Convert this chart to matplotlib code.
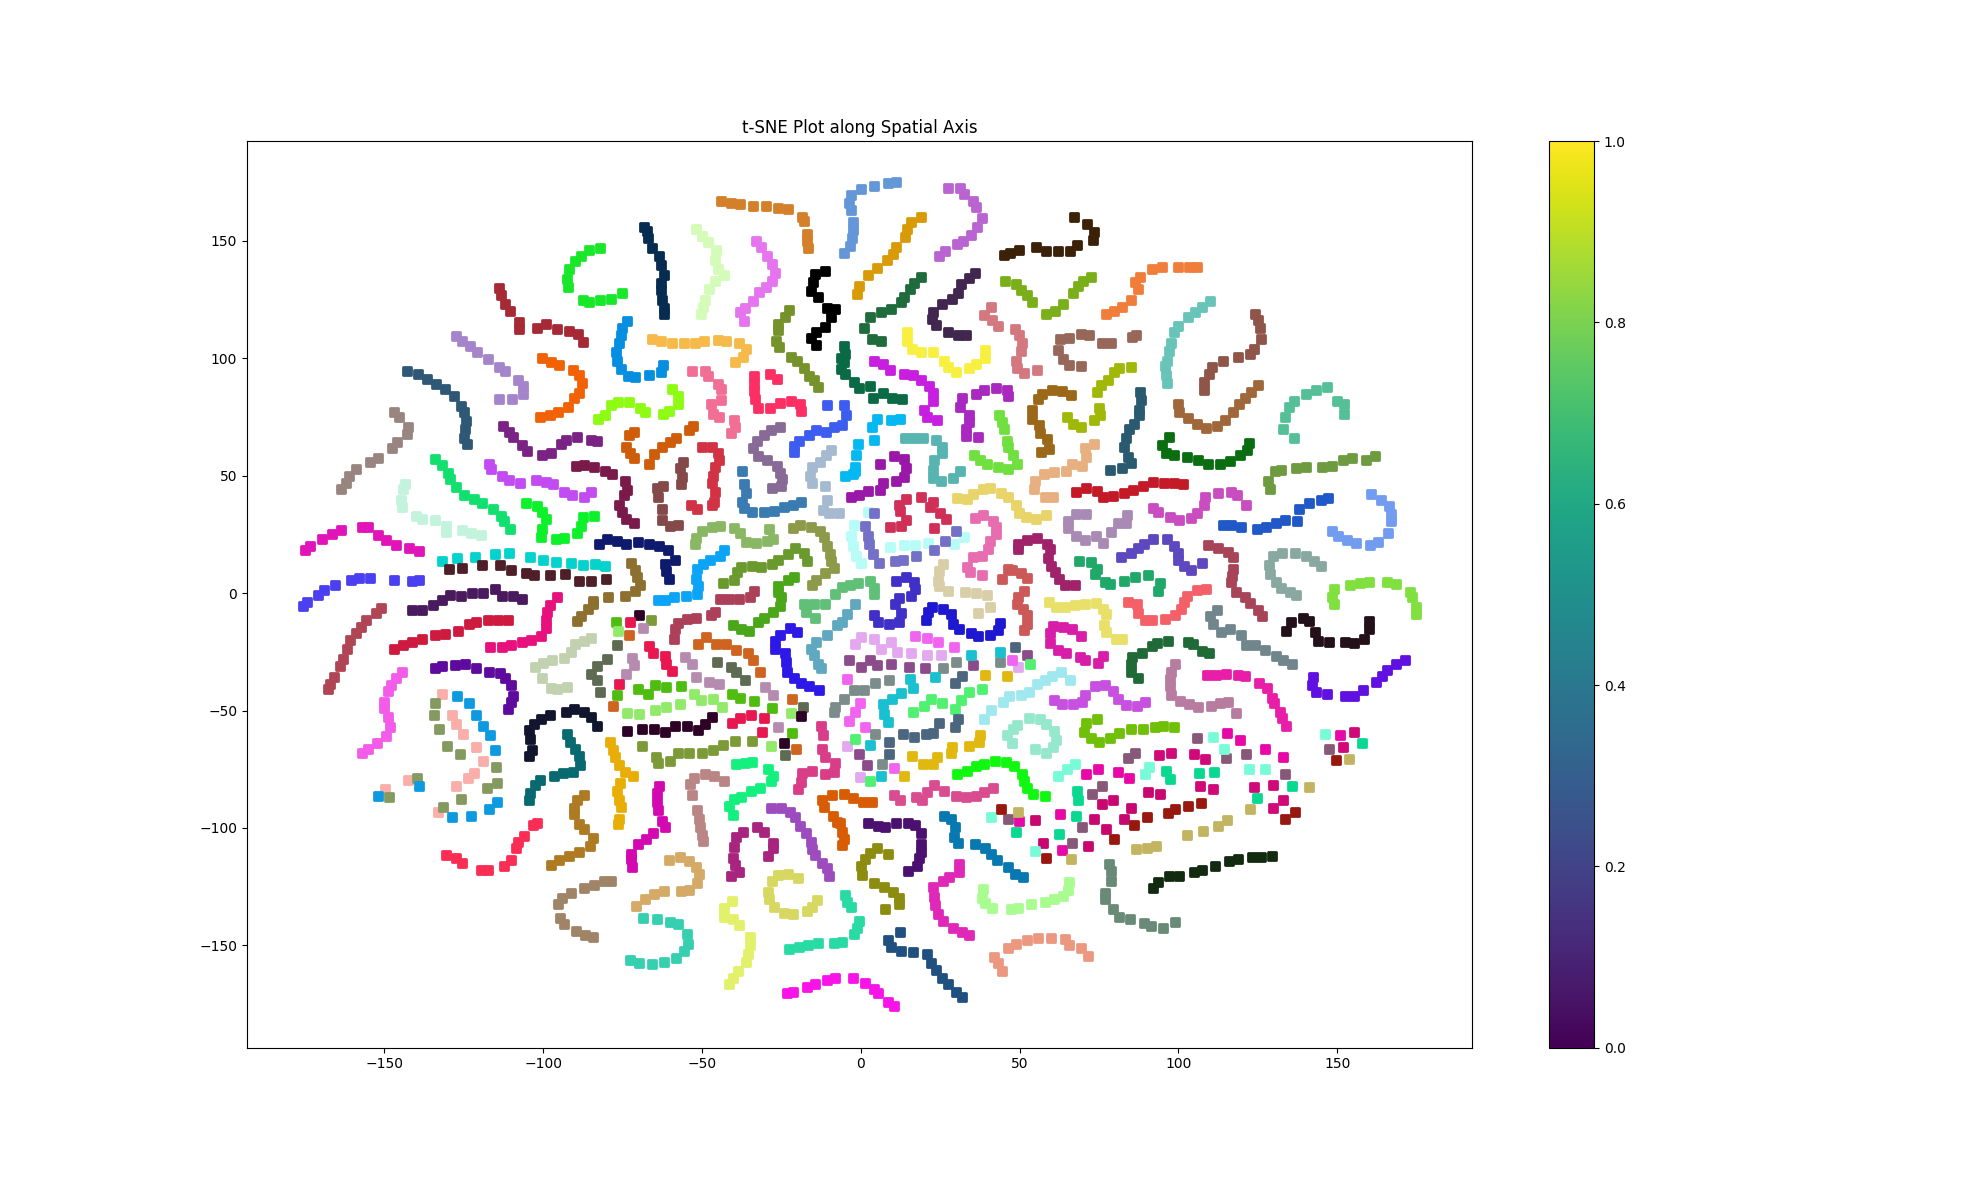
import matplotlib
matplotlib.use('Agg')
import matplotlib.pyplot as plt
import numpy as np
from matplotlib import cm, colors as mcolors

# one colour per sequence, same order as cluster_points
cluster_colors = [
    '#d47f2a', '#062c50', '#d4fbb8', '#e574ee', '#19e82a', '#a52a35', '#a485cc', '#2f5876', '#988580', '#c3f3dd',
    '#12e06e', '#f06205', '#068ee0', '#f5ba4a', '#f16f95', '#fb2f63', '#76922a', '#000000', '#8dfb12', '#7b2285',
    '#cf5c09', '#7a1a4a', '#c24cf2', '#844a4a', '#d13345', '#3a7bb2', '#876a95', '#3d5cf0', '#a5bad0', '#0cf12a',
    '#e014b8', '#0e1a6e', '#04d2cc', '#4e1f28', '#4a40f2', '#8d7030', '#0ca4f7', '#6a9a2e', '#8ab763', '#8d9a4a',
    '#4aa71a', '#4a1a5e', '#e8107c', '#cf1a40', '#b04555', '#5e0a9e', '#f25ce8', '#f9aeaa', '#859a60', '#0e9ae0',
    '#11162e', '#086a70', '#e8ae06', '#c2d1b0', '#5e6b52', '#4fbd10', '#92ea6a', '#2e0226', '#7d9a38', '#b58cb0',
    '#e8174f', '#cf6420', '#ac4058', '#60c078', '#5fa8c0', '#2e18e8', '#d93d88', '#d94c90', '#14f080', '#b98585',
    '#d408b0', '#ae7a22', '#fb2d55', '#a08468', '#d4aa66', '#36d0b0', '#a8247e', '#9d4cc0', '#d6d862', '#e3f06a',
    '#28dba4', '#f814e8', '#6497d8', '#b964d0', '#d99a08', '#3a2108', '#1f6b3c', '#41264f', '#7aaf1a', '#f07d3a',
    '#68c4b8', '#8f5548', '#d47880', '#f8f040', '#97685a', '#0a6a46', '#c81ee0', '#a828c0', '#9a6818', '#a0b808',
    '#2a5a70', '#a0683a', '#0a6e10', '#55c098', '#6e9a40', '#58b4b0', '#04b8f2', '#9a18a8', '#70e040', '#e8b080',
    '#c41a28', '#c94cc0', '#2058c8', '#729cf0', '#e8d468', '#a88ab5', '#5e48c0', '#e86cb0', '#d03058', '#b8fcf8',
    '#7470c8', '#d8cea8', '#a0226a', '#20a868', '#a84458', '#88a8a0', '#80e040', '#f46068', '#e8e068', '#cc5858',
    '#4030c8', '#1e18d0', '#d81ea8', '#206a38', '#241018', '#70868c', '#6010e0', '#e81ea8', '#b87ca0', '#c850e0',
    '#a0e8f0', '#96e8cc', '#70c008', '#10f810', '#d85c04', '#4c1070', '#8c8c10', '#0878b0', '#e028b8', '#a8fc90',
    '#6a8a78', '#122a10', '#ec9880', '#205080', '#e4a8f0', '#f064f0', '#8c4c8c', '#7c8c8a', '#18c0d0', '#50f070',
    '#4c6680', '#e0b810', '#d00878', '#e808a8', '#c80870', '#885878', '#78fcd8', '#08d890', '#981810', '#c2b460',
]

cluster_points = [
    [(-44,167),(-41,166),(-38,165.5),(-34,165),(-30,165),(-26,164),(-23,163.5),(-18.5,160),(-18,158.5),(-17,153),(-17,150),(-16.5,147)],
    [(-68.4,156),(-67.3,154),(-67,151),(-65.7,147),(-63.6,143.5),(-63,139.5),(-62,135.5),(-63,132),(-63,129),(-62.5,125),(-62,121.5),(-62,119)],
    [(-52,155),(-50,152),(-48,149.5),(-45.6,146),(-45.8,142),(-45,138),(-43,135.5),(-46,133),(-47.7,129.5),(-49,125),(-49.6,122),(-50.3,119)],
    [(-33,150),(-31.5,147.5),(-29.5,143.5),(-28,140),(-27,136.5),(-28,133),(-30,130.5),(-32,128),(-34,124.5),(-36.4,121.5),(-38,119.5),(-36.8,116)],
    [(-82,147),(-85.5,146),(-88,143.5),(-90,141.5),(-91.8,138),(-92.5,133.7),(-92.3,130.5),(-87.5,125),(-85.6,124),(-82,124.6),(-78.7,125.3),(-75.3,127.6)],
    [(-113.8,130),(-113.3,127),(-112,123.3),(-110.5,120.3),(-107.5,115.5),(-107.7,112.5),(-102,113),(-99,114.4),(-95.8,112.5),(-92,111.8),(-89,110.5),(-87.4,107)],
    [(-127.6,109.5),(-125.5,107.5),(-122.9,105),(-120.7,102.8),(-117.5,99.6),(-114,96.4),(-112,94.5),(-108,90.6),(-106.3,88),(-106.4,84.8),(-114,82.5),(-109.8,82.5)],
    [(-142.8,94.6),(-139.4,93.5),(-136.6,91),(-133.9,89),(-131,87),(-128,84),(-125.8,79.8),(-125,77),(-124.2,73.3),(-124.7,69.7),(-125,66),(-124,63.4)],
    [(-147,77),(-145.4,75),(-142.5,70.7),(-143,67.7),(-146,64.3),(-147.7,61.7),(-152,57.6),(-154.6,56),(-158.9,53),(-161,50),(-162,47),(-163.6,44.4)],
    [(-143.6,46.5),(-144,44.4),(-144.8,39.7),(-144.3,36.8),(-140,33),(-138.3,31.7),(-134,31),(-130.6,28.7),(-130.6,26),(-125.6,27),(-122.8,25.5),(-119.5,24.8)],
    [(-134,57),(-132,54.5),(-130,51.3),(-129.3,48.5),(-127.4,45),(-124.8,41.8),(-121.7,40),(-119.3,38.3),(-115.7,36),(-113.3,33),(-112.2,30.6),(-110.4,27.5)],
    [(-100.3,100),(-97.7,98.6),(-95,97),(-90.7,95),(-88.8,93),(-87.7,89.3),(-88.6,85),(-90.2,83),(-92.3,79.4),(-95.4,77),(-98,76),(-101,75)],
    [(-73.5,116),(-75.2,113),(-75.4,109.7),(-76,106.3),(-77,102.5),(-76.9,99),(-75.6,95.4),(-73.4,92.6),(-71.2,92),(-66.6,92.7),(-63,94.3),(-62.2,97)],
    [(-65.6,108),(-62.9,107.5),(-59.3,106.7),(-55.8,106.3),(-52.3,106.7),(-49.4,107.3),(-45,107.8),(-42.4,107.5),(-38.3,106.4),(-36,104),(-37,100.4),(-39.7,98.4)],
    [(-53.3,94.6),(-49.2,94.6),(-48.2,92.5),(-45,89),(-44,87),(-44,82.4),(-47.3,80.5),(-46.4,76.4),(-44.5,75),(-39.8,73.5),(-39.7,70.7),(-41,68)],
    [(-33.7,92.5),(-33.7,89),(-33.7,86),(-33.2,82.5),(-32.4,79),(-28.5,78.8),(-28.5,93.3),(-26.4,91.3),(-25.3,81),(-22,81.8),(-19,80.7),(-18.8,77.4)],
    [(-22.6,120.5),(-24,117.6),(-26.2,114.5),(-26.2,112),(-26.7,107.5),(-25.8,104.8),(-22,100.6),(-20,99),(-17.9,95.9),(-16.4,92.6),(-14.7,90.6),(-13.5,87.8)],
    [(-11.2,137),(-14.5,136),(-15.2,132.3),(-15.6,128.6),(-13.4,126),(-10.8,121.6),(-8,120.8),(-9.5,117.5),(-11.3,113.2),(-14,111),(-15.7,108.8),(-14,105.8)],
    [(-59.3,86.8),(-57.5,83.8),(-57.7,80.7),(-60.3,77.7),(-62.2,76.4),(-68,77),(-69.5,79),(-72.9,81.4),(-76.5,81.4),(-78.7,80),(-80.6,76),(-82.6,74.3)],
    [(-112.5,71),(-110.8,68.4),(-109.5,66.3),(-106.8,62.9),(-105,60.6),(-100.5,58.7),(-97.7,59.7),(-94.3,63.3),(-92.8,65.3),(-89.2,66.6),(-85,65.4),(-83.2,64.6)],
    [(-52.8,71),(-54,69.6),(-58.2,66),(-60,64.4),(-62.5,62.4),(-65,59.3),(-66.6,55),(-71.5,68.6),(-73,67.4),(-74,62.2),(-72.7,59.6),(-71.3,57.5)],
    [(-89.7,54),(-87,54.6),(-84,53.8),(-80.5,52),(-78.4,50.8),(-74.3,47.7),(-73.6,44),(-74.7,41.7),(-76,37.6),(-75.2,34.7),(-73.8,31.7),(-71.3,29.7)],
    [(-117.2,55),(-116.5,53),(-112.9,49.8),(-110.8,48.2),(-107.2,47),(-102.4,48.2),(-99,47.2),(-96.8,46.4),(-93.3,43.2),(-91,41.7),(-87,41),(-84.8,43)],
    [(-56,55.9),(-57,53.3),(-56.4,49.6),(-56.7,46.5),(-62.3,45.8),(-64.3,44.7),(-64,41),(-62.7,35.8),(-62.7,31),(-60,28.6),(-57.5,29)],
    [(-50,62),(-46.7,62),(-44.9,59.6),(-44.6,56.8),(-46,53.6),(-46.5,50),(-46.7,46.8),(-46,43),(-46.1,38.7),(-46.8,37.3),(-53.5,37.4),(-51.7,36)],
    [(-37.5,52.2),(-36.8,46.5),(-36.2,42.5),(-37.4,38.7),(-36.9,36.3),(-34.3,34.6),(-30.6,34.4),(-27.4,35),(-24.2,36.6),(-21.3,37.7),(-18.9,38.8)],
    [(-25.4,70.6),(-28.4,69.3),(-30.6,67.4),(-32.6,64.7),(-33.8,61.9),(-32.4,58.2),(-29.4,56.6),(-26.3,54),(-25.3,51),(-24.8,48.5),(-25,45.4),(-28,44.8)],
    [(-10.8,80),(-5.3,79.9),(-4.7,75.7),(-5.8,71.4),(-8.4,70.7),(-11,68.8),(-14,69.6),(-16.2,67.3),(-19.4,64.9),(-21,62.6),(-21,60)],
    [(-9.5,61),(-11,58.6),(-13,56),(-15.3,53.6),(-16,50),(-15.5,47),(-11.3,45.8),(-10.8,39.8),(-12,35.4),(-10,34),(-7,34)],
    [(-105.4,38.4),(-102,37),(-100.4,34.4),(-99,31.4),(-100.4,27.2),(-100.7,23.8),(-96,23),(-93.3,23.3),(-89.5,25.5),(-88,28.7),(-87.4,32.3),(-84,32.7)],
    [(-175,18.4),(-173.4,20),(-169.6,23),(-166.6,25.2),(-163.8,27),(-157.2,28.2),(-155,28.2),(-152,24.6),(-149.4,22.6),(-146.3,20.5),(-142.3,19),(-139,18)],
    [(-82.4,20.8),(-80,23),(-76.7,22),(-74,21),(-70.3,21.8),(-66.7,21),(-63.4,20),(-60.7,18.2),(-58.6,14.2),(-61.8,12.4),(-61.4,9.2),(-60.4,6)],
    [(-131.9,13.7),(-127,14.8),(-121.6,15.4),(-115.2,16.6),(-110.7,17),(-104.2,15.4),(-100,14),(-96,13.4),(-91.3,13),(-87.6,12),(-83.7,12.4),(-80.6,11.4)],
    [(-129.8,10.2),(-125.5,10.7),(-119.2,12),(-113.5,12),(-110,10),(-105.3,8.4),(-102.8,7.5),(-98,7.5),(-93.2,8),(-88.7,5),(-85,5.3),(-80.2,5.8)],
    [(-175.6,-5.6),(-174.4,-4),(-171,-0.6),(-169,1.3),(-165.4,3.4),(-160.5,5.7),(-158,6.4),(-154.4,6.4),(-147,5.5),(-141.3,5),(-139,5.4)],
    [(-72.5,13),(-71,10),(-70.6,6.7),(-69.5,3.6),(-71,1),(-74.4,-1.1),(-79.6,-1.8),(-84.4,-3.3),(-84.3,-4.7),(-86,-6.9),(-88,-9.7),(-89.2,-11.8)],
    [(-43,18.5),(-44.2,16),(-47.4,14),(-49.6,12.4),(-51.5,10.2),(-52,6),(-51.3,3),(-51.7,-0.5),(-54.9,-1.4),(-58.7,-1.8),(-61.8,-2.8),(-64,-3)],
    [(-43.4,4.5),(-40,5.7),(-39,8.8),(-37.8,11),(-34.4,11.4),(-31.4,11),(-27.9,12.4),(-26,14.2),(-23,16.6),(-20.6,19),(-18,17),(-17,13.8)],
    [(-52.3,20.9),(-52,23.3),(-50,26.3),(-47,28.2),(-44.3,28.7),(-40,27.7),(-38,25.6),(-36,21.8),(-33,21.2),(-29.6,22),(-27.8,23),(-28.8,27.3)],
    [(-21.3,27.7),(-19.2,28.9),(-15.7,28.2),(-13,26.6),(-11.7,23.8),(-10.8,20.2),(-9.8,16.6),(-9.3,13.8),(-8.5,10.7),(-11.4,8.5),(-14,5.7),(-15.3,3.4)],
    [(-21,6.7),(-23,5.5),(-26,3),(-26,0.3),(-25,-1.8),(-25.6,-5.6),(-27.8,-8),(-30.6,-10.4),(-32.5,-12.3),(-35.2,-16),(-37.8,-15.4),(-40.4,-13.4)],
    [(-141.3,-7.3),(-138,-7),(-134.7,-5.2),(-131.9,-3),(-129.4,-0.7),(-125.9,-1.3),(-122.4,-0.1),(-118.8,0),(-115.3,1.6),(-113,-1.1),(-109.5,-1.1),(-106.6,-2.5)],
    [(-95.6,-1.8),(-97.8,-5.2),(-98.8,-8),(-99,-11.6),(-99,-15),(-100.7,-18.4),(-103.7,-19.8),(-106.8,-21),(-110.2,-22),(-112.9,-23),(-116.7,-22.9)],
    [(-147,-23.6),(-144,-22),(-141.4,-21),(-138,-19.4),(-134,-18),(-131,-17.4),(-126.9,-16),(-123.3,-13.3),(-121,-12.5),(-117.5,-11.6),(-114.2,-11.3),(-111,-11.3)],
    [(-151,-6.2),(-152.5,-8.4),(-155.8,-11.6),(-157.3,-14.3),(-159,-16.8),(-160.7,-20),(-161.7,-24),(-163,-28),(-164,-31),(-166,-35.7),(-167,-38.5),(-167.6,-41)],
    [(-134,-32),(-131.8,-31),(-127.7,-30.6),(-124.6,-30),(-121,-32),(-117,-33.4),(-113.5,-34),(-112,-36.2),(-110,-39),(-109.5,-43.8),(-110,-46.3),(-111,-49.4)],
    [(-144.5,-33.4),(-146.3,-36),(-148,-39),(-149,-41.6),(-150,-46.3),(-150.2,-48.9),(-149,-52.8),(-148.3,-57.2),(-149.6,-61),(-152.3,-63.8),(-155.3,-66.2),(-157,-67.9)],
    [(-132,-43),(-128.8,-52),(-127.3,-55.7),(-125.2,-60),(-121.3,-65.5),(-119,-71.3),(-121.9,-76.8),(-123.7,-78.7),(-127.4,-82.3),(-142.7,-79.5),(-149.7,-83.3),(-133,-93.3)],
    [(-134,-46.6),(-134.5,-52),(-132.8,-57.7),(-130.3,-64.9),(-126.2,-68.4),(-115,-74),(-114.7,-81),(-117.7,-83),(-126,-87.6),(-131.6,-91),(-139.8,-78.7),(-148.5,-87)],
    [(-127.2,-44),(-123.3,-46.9),(-121,-52),(-118.8,-56.4),(-116.7,-60.6),(-115.2,-66.9),(-114.4,-89),(-117.2,-92),(-122.7,-95),(-128.7,-95.4),(-139,-82),(-152,-86.6)],
    [(-98,-51.7),(-100.8,-53.7),(-102.8,-55.8),(-104.6,-58.5),(-104,-62.3),(-103.5,-66.9),(-104.4,-69.2),(-92.9,-50.6),(-90.4,-49.3),(-87,-50.6),(-85,-52.8),(-83.2,-56.4)],
    [(-92.5,-60),(-91.6,-63.3),(-90,-66.2),(-88.7,-69.2),(-88.4,-73),(-90.5,-76.2),(-93.8,-76.8),(-96.5,-77.7),(-100.9,-79.5),(-102.5,-81.6),(-104,-85.3),(-104.6,-88)],
    [(-79,-63.5),(-78.1,-66.9),(-77.5,-69.7),(-76,-73),(-74.2,-76),(-71.6,-78),(-75.8,-80.8),(-76.7,-84.2),(-76,-88),(-75.5,-91),(-76,-96),(-76.4,-98.4)],
    [(-84.8,-19),(-87,-20.2),(-90,-21.6),(-91.3,-25),(-93.5,-27.6),(-97.3,-28.7),(-100,-29.7),(-102.5,-31.3),(-100.4,-36),(-97.4,-40.6),(-95.5,-40.8),(-92.5,-39.8)],
    [(-79.8,-28.2),(-83,-31),(-85,-34.3),(-83,-37),(-82,-42.2),(-76.7,-22),(-45.2,-29.4),(-41,-31.4),(-39.2,-33.8),(-36.4,-36.8),(-18.1,-48.4),(-23.8,-68.9)],
    [(-77,-12.1),(-76.8,-43.3),(-70.1,-41),(-67,-42.8),(-64.8,-39),(-61.2,-39.8),(-56.7,-39.5),(-40.7,-42.9),(-37.9,-44.6),(-33.7,-45.9),(-27.9,-49),(-21.7,-59.4)],
    [(-76.5,-16),(-73.6,-50.9),(-69.8,-51.4),(-64.9,-49.6),(-61.3,-48.3),(-56.8,-47.2),(-52.5,-42.9),(-50.2,-45.5),(-46.4,-45.3),(-43.6,-48.7),(-22.1,-51),(-28.3,-65)],
    [(-69.7,-9.4),(-73.5,-58.7),(-68.8,-57.7),(-65,-57.7),(-61.8,-59.2),(-58.6,-56.8),(-54.6,-56.5),(-51.2,-58.5),(-49,-55.8),(-46.7,-52.6),(-18.8,-52.3),(-24.2,-63.8)],
    [(-66,-11.3),(-68.8,-65.3),(-64.6,-70),(-64,-72.5),(-60.1,-71.3),(-57.6,-68.3),(-54,-67.9),(-49.9,-67.9),(-46.6,-66.6),(-43.4,-64.5),(-39.5,-62.9),(-34.4,-62.9)],
    [(-68.5,-15),(-72.1,-27.7),(-71.3,-30.6),(-73.9,-34.3),(-55.4,-27.4),(-53,-30),(-52,-35.7),(-47.9,-37.8),(-44.5,-38.5),(-30.1,-39.8),(-27.8,-43.3),(-26,-57.2)],
    [(-72.8,-12.5),(-66.6,-22.6),(-65.4,-25.5),(-61.6,-26.6),(-61.4,-30.4),(-59.4,-33.1),(-76,-38.5),(-40.7,-55.4),(-37.9,-53),(-34.6,-51.7),(-30.6,-53),(-31,-59)],
    [(-73,-17.8),(-77.9,-47.9),(-51.2,-21.6),(-48.6,-18.5),(-45.5,-21.5),(-42.5,-21.5),(-39.4,-24.3),(-35.4,-25.3),(-33.9,-28.3),(-31.6,-33.4),(-21.7,-45.3),(-20.4,-66.2)],
    [(-58.7,-19.4),(-58.6,-15.5),(-57.7,-12.7),(-54.6,-10.9),(-52,-10.4),(-47.3,-9.4),(-45.9,-8),(-44.2,-2.6),(-41.4,-2.6),(-38.4,-2.6),(-35,-1.8),(-33.7,0.7)],
    [(-14.3,-10.7),(-17.4,-7.9),(-17.9,-4.5),(-14.7,-4.7),(-11.4,-4.5),(-8.2,-0.4),(-5.8,2.7),(-3.5,3.3),(-1,4.3),(3,5.3),(4.3,2),(4.3,-0.4)],
    [(-1.8,-4.5),(-4.2,-8.7),(-5.8,-12.3),(-7.6,-13.7),(-10.5,-17.9),(-14,-20.8),(-15.7,-23.6),(-14.9,-26.4),(-13.6,-30),(-12.4,-32.1)],
    [(-27.1,-24),(-27,-20.4),(-25.6,-17.7),(-22.4,-14.7),(-20,-16.7),(-23.8,-25.5),(-23.5,-29.3),(-23.1,-33.8),(-21,-36),(-18.8,-38.2),(-16.3,-39.4),(-13.1,-41.1)],
    [(-12.5,-56.5),(-12,-60.5),(-12.1,-66.2),(-11.4,-69.7),(-8.2,-72.5),(-8.5,-76),(-11.4,-77),(-15.3,-75.7),(-18.4,-76.8),(-18.8,-80.4),(-19.7,-83.6)],
    [(10.6,-86),(12.2,-87.9),(17.5,-86.7),(19.4,-88.2),(20.7,-84.6),(23.1,-81.8),(26.3,-84.3),(30,-86.3),(33.2,-87),(36.3,-86.5),(38.8,-84.6),(41.6,-82.8)],
    [(-39.4,-72.8),(-36.5,-72.4),(-34.3,-72.1),(-29.2,-74.7),(-27.5,-77.8),(-28.4,-80.1),(-31.7,-82.9),(-34.7,-84.3),(-37.7,-86.7),(-39.9,-87.7),(-41.6,-90.6),(-40.4,-94.4)],
    [(-43.2,-79.8),(-46.1,-77.7),(-49.2,-77.2),(-52.6,-78.9),(-53.7,-81.3),(-53,-86),(-51.7,-92.5),(-50.8,-96.4),(-50.5,-99.5),(-50,-102.8),(-49.6,-105.7)],
    [(-63.5,-82.2),(-64.2,-85.3),(-64.3,-89.1),(-64,-92.4),(-62.7,-96.9),(-61.6,-99.5),(-65.4,-102.3),(-67.5,-104.5),(-70,-107),(-72.2,-110.9),(-72.4,-113.4),(-71.9,-116.5)],
    [(-87.1,-86),(-89.2,-88.2),(-90.2,-91.7),(-90.2,-94.1),(-88.8,-98.4),(-87.3,-100.6),(-84.3,-104.2),(-85.3,-107.6),(-88.8,-110.1),(-91.8,-111.8),(-94.9,-113.8),(-97.4,-115.7)],
    [(-102,-98),(-103.3,-98.8),(-106,-103.3),(-107.8,-105.9),(-108.7,-108.7),(-110,-113.7),(-112.3,-116),(-117.4,-118),(-119.7,-118),(-125.7,-114.8),(-127.4,-112.7),(-130.6,-111.4)],
    [(-78.7,-122.8),(-81,-122.6),(-84,-124.3),(-87.1,-125.7),(-91.3,-127.7),(-94.1,-129.7),(-95.2,-132.5),(-94.7,-138.5),(-93.3,-141),(-89.8,-144),(-86.8,-145.6),(-84.4,-146.6)],
    [(-60.4,-113.8),(-57,-112.3),(-54,-114),(-52,-116.5),(-50.9,-119.6),(-51.5,-123.3),(-54.2,-126.4),(-56.7,-127),(-62,-127),(-65.2,-128),(-68,-130.3),(-70.9,-133.4)],
    [(-68.5,-138.5),(-64.3,-138.9),(-60.2,-139.9),(-57.6,-141),(-54.8,-145),(-54.3,-149.6),(-55.8,-152.3),(-58.2,-155.3),(-62,-157),(-65.6,-157.8),(-69.9,-157.4),(-72.7,-156.4)],
    [(-32.7,-99.8),(-30.5,-101.8),(-27.6,-106.3),(-27.6,-108.7),(-29.2,-111.8),(-37,-101.6),(-39.4,-103.8),(-40,-108),(-40.4,-113),(-39.6,-115.8),(-38.3,-118.7),(-41,-120.6)],
    [(-28.4,-91.3),(-25,-91.3),(-22.4,-93.4),(-20.7,-95.5),(-19.2,-99),(-17.4,-102),(-15.8,-105.9),(-15.3,-109.1),(-14.3,-111.5),(-12.1,-115),(-10.5,-117.2),(-9.9,-120.6)],
    [(-19.8,-121.3),(-22.9,-119.4),(-26,-120.2),(-27.9,-122.5),(-29.2,-127.3),(-28.8,-130.3),(-27.2,-133.5),(-24.3,-136.4),(-21.2,-136.8),(-17,-135.4),(-15.3,-133.5),(-13.8,-130.7)],
    [(-40.7,-131.1),(-43,-134.3),(-43,-138),(-40.1,-138.9),(-38.2,-141.3),(-34.8,-146.3),(-34.8,-149.9),(-35.4,-153.7),(-36.1,-157),(-38.6,-161),(-40.2,-163.8),(-41.4,-166.5)],
    [(-22.5,-151.4),(-19.4,-150.6),(-16.5,-149.7),(-13.4,-149.2),(-8.5,-148.9),(-5.8,-148.7),(-2.2,-145.2),(-1.3,-142.5),(-0.5,-139.7),(-5,-128.6),(-4.2,-131.4),(-3,-133.5)],
    [(-23.3,-170.4),(-21.2,-169.7),(-17.1,-167.9),(-14.3,-166.6),(-10.5,-164.8),(-8,-163.9),(-2.6,-164),(1.4,-166.2),(4,-168.6),(5.5,-170.4),(8.6,-174),(10.6,-176)],
    [(11,175),(8.7,174.5),(4.3,173.4),(0,172),(-3,169.6),(-3.7,166.3),(-3.2,163),(-2.4,158),(-2.5,154.6),(-2.9,151.3),(-3.4,148),(-5.3,145)],
    [(27.3,172.4),(31.3,172.4),(32.4,169.8),(35.2,166.9),(36.4,164.3),(38,159.6),(36.7,155.8),(34.8,152.3),(32.3,150),(30.2,148.5),(26.5,145.8),(24.7,143.7)],
    [(18.8,160),(15.9,158.2),(14.4,155),(13.8,151.5),(11,147.5),(10,144.2),(8.2,142),(5,138.5),(2.2,135.4),(-0.5,130.7),(-1.3,127.3)],
    [(67,160),(71.3,157.3),(73.3,153.6),(73,150.5),(68,148.2),(66,145.8),(62,145.8),(58.4,145.5),(55,147.2),(49.9,146.2),(46.9,144.8),(45.1,143.8)],
    [(19,134.8),(16.7,132),(15.4,129.6),(13.5,125.9),(12.7,123.9),(9.5,120.9),(6.3,119.8),(3,117.4),(1,113),(3.4,108.3),(6.4,107.5)],
    [(36,136.4),(33.9,134.3),(31.6,131.4),(30.7,127.6),(28.6,125.2),(25.7,122.9),(22.8,119.8),(22.3,116.9),(23.6,114),(27.3,111.2),(30.6,110),(33.2,109.8)],
    [(45.4,132.7),(48.9,131.4),(50.4,129),(52.3,126.9),(53.9,123.9),(58.4,118.9),(61,120),(63.6,123),(66.9,127.6),(68.4,130.7),(70,132.9),(72.4,134.7)],
    [(105.8,139),(103.4,139),(99.7,138.8),(94.9,139),(91.8,138.1),(87.8,134.7),(86.3,132.6),(87.3,129.4),(85.1,125),(82.2,121.9),(79.6,120),(77.2,118.9)],
    [(110,124.2),(107.4,121.9),(105.1,119.5),(103,117.5),(100,113.7),(98.6,111.2),(97.8,106.7),(96.9,103),(96.5,99),(95.8,96.7),(96.1,92.7),(96.5,89.6)],
    [(124,118.8),(125,116.2),(125.7,113),(126,108.3),(123.9,103.8),(122.6,102),(118.9,100.6),(114,98.9),(110.6,96.3),(109.6,93.5),(107.9,89.9),(107.9,86.6)],
    [(41,122),(38.8,118.5),(41.3,116.2),(43.3,113.7),(48.6,112.5),(49.8,110),(50.6,106.7),(50.4,103),(48.8,99),(49.3,95.9),(51.4,93.9),(55.5,95.2)],
    [(14.6,111),(14.6,107.5),(16.2,103.8),(18.8,102.7),(22.6,102.7),(26.2,99),(27.6,96.3),(30,94.2),(33.9,96),(36.4,97.7),(39,100),(39.2,103.4)],
    [(62.6,108),(65.6,108.8),(69.3,110.5),(71.7,109.7),(75.9,106.7),(78.8,106.7),(85.4,109.1),(86.7,110.1),(62.1,103.3),(63.7,99.7),(65.6,97.2),(69.2,96.9)],
    [(-6.3,100),(-6.3,95.6),(-5.3,105.3),(-5,102),(-5.3,98.4),(-5,93.5),(-2.1,89.9),(-0.5,87.5),(3,88),(3.9,83),(7,85),(9.8,83),(13,82.6)],
    [(4.3,99),(7,97.7),(9.1,94.9),(13.5,93.5),(16.4,92.9),(19.1,90.9),(21.5,88),(22.6,85),(22.6,82),(19.9,77.8),(20.7,75),(23.9,73.8)],
    [(46.4,83.8),(46,86.3),(42.4,87.5),(38.8,86.6),(36.4,84.6),(31.9,83),(31.3,79.2),(34.2,75.7),(34,72.8),(33.2,70),(33.2,67),(36.9,66.4)],
    [(66.3,84.5),(63.2,86.2),(60.3,86.5),(57.1,84.9),(55.7,82.5),(53.8,77.8),(53.8,74.3),(56,71.4),(56.5,68.3),(58.6,65.7),(59.2,61.5),(56.7,60)],
    [(85.1,96.3),(81.4,96),(79.6,94.2),(77.7,90.9),(75.6,88.5),(74.5,85.6),(65,75),(66.8,72),(69.3,70.7),(73.4,73.8),(75.3,75.7),(75.1,78.8)],
    [(88,85.6),(88.1,82.4),(87.5,77.8),(87.5,75.7),(86,72),(84.3,70),(83.5,66),(82.8,62),(84.1,58),(85,55.5),(82.2,53.2),(78.5,52.5)],
    [(99.7,80.4),(100.2,77.1),(103,74.7),(105.8,72.1),(108.7,70.3),(112.2,71.1),(114.6,73.5),(117.2,77.1),(119.1,80.7),(121,83.1),(122.9,85.6),(125,88.8)],
    [(97.1,66.6),(94.9,62.9),(96.1,59.6),(98.7,58.6),(102.6,57.9),(106.3,56.5),(109.3,54.8),(113.2,54.8),(116.2,56.2),(119.4,58.6),(121.5,61),(122.1,64)],
    [(146.7,87.9),(143.2,86.3),(140.3,84.9),(136.3,81.7),(134.7,79.2),(133.5,75),(133,70),(136.3,66.1),(150,82),(152,80.4),(152,76.4)],
    [(162,58.3),(159,56.8),(154.6,57.6),(151.7,56.5),(148.3,54.3),(145.3,53.6),(140.3,53.6),(137.1,53.2),(132.3,52.6),(130.3,51.9),(128.2,47.9),(128.7,44.4)],
    [(14,65.9),(16.7,66.1),(19.7,66.1),(23.6,65.4),(25.5,62.2),(25.5,59.6),(23.1,56.8),(22.8,52.6),(22.6,48.9),(25.2,47.9),(28.9,48.9),(31.3,51.8)],
    [(12.4,74.3),(9.5,73.5),(5,74.3),(3.4,70.7),(4.2,65),(-1,63.6),(-1.5,58.6),(-1.8,53.6),(-1.8,51.9),(-2.6,50.5),(-5,49.8)],
    [(10.3,58.2),(13.5,57.2),(14.3,53.2),(13.5,49.4),(11.1,47.7),(7,46.8),(5.9,55),(5.9,43.7),(2.2,43.4),(-0.5,41.8),(-3,41)],
    [(43.5,76),(44.5,72.8),(45.1,70),(46,64.7),(46.4,62.4),(48,58.6),(49.3,55),(46.4,52.9),(43.2,53.6),(39.6,54.8),(37.6,56.8),(35.5,58.6)],
    [(73.4,63.6),(70.6,61.7),(70.8,57.9),(69.7,54.3),(66.5,54.8),(64.7,51.8),(60.8,51.5),(57.8,50.8),(54.7,47.7),(54.4,44.4),(57.9,40.8),(60.5,41)],
    [(67.7,43),(71,44.8),(74.3,43.4),(76.1,40.8),(79.3,41.3),(83,42.5),(85.7,43.7),(88.9,45.8),(92,47.2),(95.5,47),(98.7,46.8),(101.3,46.5)],
    [(121.2,37.6),(118.3,41.8),(116.5,43),(112.5,42.7),(108.3,41),(107.9,37.7),(105.8,34.1),(103.8,32),(100.2,31.2),(97.3,32.3),(93.4,34.4),(92.1,36.3)],
    [(147.2,40.5),(144.9,39.8),(141.1,38.4),(137.9,35.7),(137.2,30.9),(133.4,31.2),(130.7,29.7),(127.6,28.3),(124.6,27.5),(119.7,28.3),(116.5,28.9),(114.1,29.2)],
    [(160.7,42.2),(163.9,39.7),(166.3,37.1),(166.8,33.7),(166.8,30.6),(166.1,25.6),(162.8,21.6),(160.4,20.5),(156,21.2),(153,22.6),(150.2,24.5),(148.2,26.6)],
    [(30.3,40.4),(33.5,40.1),(35.2,42.2),(38.4,44.4),(40.8,44.7),(44.1,42.7),(46.4,40.8),(48.8,37.3),(49.9,34.1),(52,32.3),(55.2,31.4),(58.4,33.3)],
    [(70.9,33.7),(67.6,33.7),(65.3,30.6),(65.2,27.7),(67.7,24.5),(70.5,22.8),(74,24.5),(76.2,21.3),(78.8,26.2),(80.9,29.7),(83.6,29.7),(83.8,33.3)],
    [(81.9,15.5),(84.9,16.9),(87.3,19.1),(89.2,20.9),(92.1,22.9),(96.3,22.9),(98.6,20.2),(99.7,16.9),(99.7,14.1),(101.8,11.7),(103.9,10),(107.4,12.8)],
    [(35.8,32),(38.5,33.1),(41.6,30.6),(42.7,28),(42.5,25.2),(40.8,22),(39.9,18.8),(38,15.9),(35.2,15.2),(33.5,11),(34.5,8.8),(38.2,7.8)],
    [(14.3,40),(12,37.4),(12.4,34.9),(18.8,41),(22.6,39),(21.8,36.6),(25,34),(26.8,31.6),(14.3,31.2),(12.7,28.7),(9.3,28.3),(23.1,27.7)],
    [(2.2,34.7),(-2.2,29),(-3,24.2),(-2.6,20.2),(-1.4,15.9),(0.2,12.8),(9.3,19.8),(13.5,20.5),(17,20.6),(21,21.2),(29.4,20.9),(32.6,23.8)],
    [(4.3,34),(1.4,28.7),(2.2,24.5),(2.7,20.9),(3.9,16.6),(5.8,12.7),(10.8,13.5),(13.3,14),(17.5,15.6),(23.1,18.5),(26.6,22.3),(30,26.6)],
    [(25.8,12.4),(24.7,9.2),(24.2,5.3),(24.7,3.1),(27.4,1),(32.7,0.3),(36.4,-0.1),(39.6,-0.7),(40.8,-5.9),(37,-8.3)],
    [(49.4,18.8),(49.6,20.9),(52.2,22.6),(55.5,23.5),(58.6,20.9),(59.5,18.8),(58.9,14.9),(60,11.7),(61.1,8.8),(62.4,6),(64.2,3.6),(67.4,3.4)],
    [(68.7,13.5),(72.6,13.1),(74.5,10.2),(73.7,8.1),(76.9,4.6),(78.5,3.8),(83,5.3),(86.2,7),(90.5,7.8),(94.1,4.3),(93.6,1)],
    [(109.3,20.5),(112.5,19),(115.7,17.4),(117.3,15.2),(117.3,10.2),(117,7.4),(116.5,4.6),(118,0.6),(121,-1.8),(122.6,-4.2),(125,-7),(126.3,-9.7)],
    [(144.8,11.7),(142.7,13.8),(140.3,15.6),(136.6,17),(132.7,17),(129.9,15.6),(128.6,12),(128.9,8.1),(130.8,4.6),(132.3,2.1),(135,0.3),(137,-1)],
    [(149.1,1.7),(148.3,-1.8),(153.9,3.6),(157.1,4.4),(159.9,4.8),(165.6,4.8),(168.4,3.8),(172.9,0.3),(173.5,-1.8),(174.8,-5.9),(174.8,-9.1),(149.1,-4.5)],
    [(84.1,-3.7),(87,-4.7),(87.3,-8.4),(89.4,-11.3),(91.8,-11.3),(95.7,-11.1),(99,-9.4),(100.9,-6.9),(101.8,-3.7),(102.6,-1.1),(105.8,1.4),(108.7,1.6)],
    [(59.2,-3.8),(61.3,-5.9),(64.4,-5.9),(67.4,-5.2),(70.6,-4.7),(74.1,-4.2),(76.1,-6.6),(77.2,-9),(76.7,-13.7),(77.2,-16.5),(80.2,-19.5),(82.3,-19.5)],
    [(46.4,10.2),(47.7,9.8),(50.4,8.5),(52.3,6.3),(51.5,1),(49.6,-1.8),(44.5,6),(49.1,-4.5),(52.3,-9.4),(52.3,-13.3),(51.4,-15.8),(50.9,-6.6)],
    [(11.1,5.3),(14.3,6.7),(16.7,4.6),(17,1.7),(15.9,-1.1),(11.9,-2.1),(10.8,-4.5),(12.7,-8.4),(11.9,-12.3),(8.9,-13.3),(5.5,-12.3),(4.2,-9.4)],
    [(20.4,-11.6),(21,-8),(22.3,-5.9),(26,-6.9),(28.4,-8.7),(29,-13),(30.8,-15.1),(34.8,-17.2),(37,-18.1),(40.8,-17.7),(43.2,-15.8),(43.8,-12.7)],
    [(59.7,-21.2),(59.7,-17.2),(60.5,-14.1),(63.7,-14.4),(66.6,-15.5),(69.3,-18.1),(62.1,-24.3),(64.5,-25.5),(68.9,-27.4),(70.6,-28.7),(74.8,-29.7),(76.2,-26.9)],
    [(87.3,-36.1),(85.2,-33.6),(85.2,-30),(85.5,-27.4),(88.6,-25.3),(91.8,-22.6),(93.2,-21.2),(96.8,-20.4),(102.9,-20.8),(104.5,-21.8),(107.5,-24.6),(109.6,-25.3)],
    [(133.9,-16.1),(135.5,-12.3),(139.3,-10.4),(141.2,-11.8),(143,-16.5),(143.9,-20.4),(147.5,-20.8),(152.3,-20.8),(155.2,-21.2),(158.4,-19.5),(160,-15.1),(160,-11.8)],
    [(112.2,-7),(109.8,-9.9),(111,-13.3),(113.5,-16.5),(116.2,-15.4),(119.6,-17.9),(121.4,-22.2),(124.2,-21.9),(127.4,-24.3),(130.7,-26.7),(133,-28.3),(135.6,-30)],
    [(142.2,-35.9),(141.9,-39.2),(143.2,-42),(146.7,-43),(152.3,-43.8),(155.2,-43.8),(158,-41.1),(162.3,-37.8),(164,-35.3),(165.5,-32.8),(168.4,-30.4),(171.3,-28.3)],
    [(108.9,-34.8),(111.7,-34.8),(115.1,-34.5),(118.6,-34.8),(121,-35.4),(125.2,-38.1),(127.9,-40.6),(129.5,-44.6),(130.2,-46.6),(132.1,-50.6),(132.7,-53.1),(134,-56.4)],
    [(98.9,-30.3),(97.8,-33.5),(97.4,-36.4),(97.4,-39.5),(97.8,-43.2),(100.5,-46),(103.4,-47.4),(106,-48.4),(110.3,-48.2),(113,-47),(115.7,-46.2),(118.1,-50.9)],
    [(60.7,-45.7),(63.2,-47.3),(66.8,-47.2),(69.7,-46.3),(70.5,-43.2),(73.8,-39.6),(77,-39.2),(79.5,-41.6),(81.1,-44.9),(83.5,-47.7),(87,-48),(89.4,-46.3)],
    [(65.8,-36.8),(62.9,-33.8),(60.3,-35.4),(58.1,-36.8),(55.5,-38.8),(52.8,-42.3),(50.4,-43.5),(46.7,-44),(44.8,-46.3),(40.9,-49.6),(38.8,-53.8)],
    [(53.1,-53),(56.4,-53.5),(58.4,-55.8),(60.8,-58.7),(61.3,-62.6),(60.5,-65.5),(58.4,-68),(54.9,-66.3),(47.7,-64),(46,-60.5),(48,-57.7),(49.1,-56.2)],
    [(74.5,-53.8),(70.9,-55.2),(70.2,-59.1),(72.4,-61.9),(75,-63.2),(78.5,-61.9),(81.4,-59.4),(85.2,-57.7),(88.9,-57.7),(92.5,-57),(95.2,-56.4),(98.6,-57.2)],
    [(30.3,-77.1),(33.4,-75.7),(36.4,-73.7),(38.7,-72.6),(42.2,-71.7),(45.6,-72.1),(48.3,-73.5),(50.7,-77.1),(51.5,-79.9),(52.2,-83.2),(54.3,-85.5),(58.1,-86.2)],
    [(-5.3,-85.7),(-2.6,-87.4),(0.6,-89.1),(3.5,-89.1),(-12.3,-88.2),(-11.7,-91),(-9.1,-86),(-8.7,-95),(-7.6,-97.4),(-6.6,-98),(-5.8,-101.6),(-5.3,-104.5),(-5.8,-107.3)],
    [(2.1,-97.7),(5.3,-99.1),(7.7,-99.5),(11.2,-97.7),(14.8,-97.8),(17.2,-98.8),(18.8,-102.3),(19.1,-107),(18.8,-110.1),(18.3,-113),(17.7,-116.1),(14.9,-118.2)],
    [(5.1,-108.4),(3,-110.5),(1.4,-113.4),(0.2,-116.1),(0.5,-120),(4.2,-123.3),(7.4,-125),(10,-127.2),(11.9,-129.7),(12,-132.5),(7.7,-134.7),(8.7,-111.3)],
    [(26.3,-94.8),(28.4,-96.4),(29.7,-99.5),(29.4,-104),(30.6,-106.2),(35.8,-106.7),(39.2,-108.4),(41.1,-110.9),(42.9,-113.7),(46.2,-116.7),(48.6,-119.4),(50.9,-121.1)],
    [(30.9,-115.5),(30.9,-118.9),(27.9,-120.8),(26,-122.6),(22.8,-125.3),(22.9,-129.3),(23.3,-132.8),(24.2,-136.7),(26,-139.5),(28.9,-142.5),(31.9,-144.5),(33.9,-145.7)],
    [(38.5,-125.9),(38,-129.7),(39.2,-131.8),(41.3,-134),(47.2,-134.4),(49.6,-134.3),(53.6,-132.5),(57.9,-131.4),(60.8,-130.4),(63.6,-129),(65.2,-126.5),(65.6,-122.9)],
    [(78.2,-115.5),(78.8,-118.4),(78.8,-122.5),(76.9,-127.9),(77,-130.4),(79.3,-134.5),(81.4,-137.8),(84.6,-138.9),(89.2,-140.6),(91.5,-141.8),(95.2,-142.8),(98.9,-139.9)],
    [(129.5,-111.9),(126,-112.3),(123.3,-112.3),(118.6,-113.3),(116,-114),(111.4,-116),(107.4,-117.7),(105,-118.7),(100.2,-120.4),(97,-120.4),(93.7,-123),(92.1,-125.7)],
    [(71.6,-154.4),(69.3,-151.3),(65.6,-149.9),(64.4,-147.2),(59.9,-147),(55.7,-146.7),(52.3,-147.7),(48.9,-149.6),(46.4,-151),(42,-154.8),(43.3,-157.7),(44.5,-161)],
    [(12.4,-144.5),(8.7,-147.7),(9.5,-150.6),(12.8,-152.3),(16.5,-153),(20.7,-153.8),(22.1,-157.7),(23.7,-160.5),(25.7,-163.8),(27.4,-166.6),(30,-169.7),(31.9,-172.1)],
    [(-1.8,-21.5),(0.2,-18.7),(4,-19.4),(6.3,-23.6),(9.5,-21),(11.4,-25),(15.9,-25.3),(20.7,-26.5),(25.2,-26.5),(-4.2,-65),(-0.2,-78.5),(49.6,-31.4)],
    [(16.9,-18.4),(20.7,-19),(24.4,-21),(29.2,-22.9),(-4.2,-36.4),(-0.2,-46.7),(-1.8,-50.6),(-3.7,-54.5),(1.3,-57.2),(10.6,-74.3),(47.7,-28.3)],
    [(-3.7,-28.3),(0.2,-31.3),(3,-28.3),(5.1,-30.7),(9.6,-30.3),(15.1,-31.4),(20.2,-31.7),(35.3,-30.7),(52.3,-26.2),(-0.5,-68.7),(1.9,-73)],
    [(-2.2,-41.2),(0.9,-41.1),(4.5,-38.1),(8.8,-37.1),(-5.3,-44.9),(25.8,-32.1),(30,-29.3),(43.8,-29.4),(4.5,-60.2),(6.6,-72.6),(-8.2,-48.4),(-8.5,-50.6)],
    [(15.6,-36.4),(16.4,-40.5),(12.7,-42.5),(9.9,-44.9),(7,-47.4),(7.4,-51.6),(8.5,-54.7),(23.4,-35.8),(34.8,-26.5),(43.7,-24.9),(2.9,-64.5),(6.3,-77.7)],
    [(38,-40.9),(33.9,-42.3),(31.5,-45.5),(29.7,-49.2),(25.7,-46.6),(22.2,-44.9),(20,-48),(16.4,-50.6),(-1.8,-62.2),(3,-79.8),(53.3,-30)],
    [(48.6,-22.9),(31.9,-35.4),(29.5,-38.2),(30.7,-53.8),(29.5,-57.2),(24.7,-55.4),(22.8,-59.4),(20.4,-59.8),(16.6,-61.3),(13.3,-60.1),(8.8,-63.6),(8.8,-68.4)],
    [(39.2,-34.7),(45.9,-35.5),(37.6,-60.6),(37.1,-63.5),(33.9,-64.9),(28.6,-65.5),(28.4,-68.3),(24,-69.6),(22.8,-72.8),(19.6,-72.6),(16.2,-69.3),(13.6,-77.8)],
    [(94,-68.9),(97.8,-67.9),(105,-68.6),(108.5,-70.7),(106.9,-82),(110.8,-83.5),(123.9,-82.5),(129.9,-81.8),(132.9,-88.2),(129.9,-91.7),(155.2,-59.1),(151.8,-65.7)],
    [(70.8,-77.2),(74.8,-74.7),(81,-76),(84.4,-78.8),(115.4,-59.4),(132.9,-69.7),(127.4,-66.2),(62.8,-94.2),(49.9,-97.2),(63.2,-109.2),(150.9,-60.6),(119.4,-62.4)],
    [(90.5,-84.9),(94.2,-85.7),(75.9,-89.9),(79.5,-87.9),(84.9,-91.7),(82.8,-96),(73.5,-96.4),(77.2,-100.6),(54.9,-96.8),(71.6,-107.9),(57.5,-106.2)],
    [(84.1,-70.1),(86.2,-68.3),(105.9,-61.9),(114.9,-70.4),(121.4,-68.7),(133.6,-77.2),(147.4,-66.2),(75.9,-82.2),(72.7,-85.6),(46.4,-96.4),(69.7,-99.4),(66.6,-106.2)],
    [(110.9,-61.1),(114.3,-66.2),(122.3,-74.7),(127.3,-75.1),(146.2,-59.8),(90.7,-74),(89.4,-77.1),(67.4,-72.8),(65,-74.7),(62.1,-77.8),(41.1,-95.5),(54.9,-110)],
    [(96,-75.8),(97.4,-79.1),(106.6,-76.8),(111.1,-76.1),(124.7,-87.4),(135.8,-82.1),(157.8,-64),(68.1,-84.2),(68.5,-88.2),(67.7,-94.8),(62.3,-102.6),(48.8,-101.9)],
    [(107,-89.3),(103,-90.6),(98.9,-91.8),(96.8,-93.8),(90.2,-95.5),(86,-98.9),(79.8,-104.5),(44.1,-92),(58.4,-112.8),(133.5,-96.4),(136.8,-93.3),(149.6,-71.1)],
    [(141.1,-82.5),(122.6,-92),(115.3,-96.8),(112.5,-99.1),(107.7,-101.1),(102.7,-102.8),(92.8,-107.6),(90.2,-108.6),(86.7,-109),(66.1,-113.3),(49.4,-93.2),(153.8,-70.7)],
]

fig = plt.figure(figsize=(19.76, 11.77), dpi=100)
ax = fig.add_subplot(111)

for color, points in zip(cluster_colors, cluster_points):
    xy = np.array(points)
    # squares with a thick round-joined edge give the blocky dots of the original
    ax.scatter(xy[:, 0], xy[:, 1], color=color, marker='s', s=28, linewidths=2)

ax.set_xlim(-193.25, 192.45)
ax.set_ylim(-193.5, 192.4)
ax.set_title('t-SNE Plot along Spatial Axis')

# scatter was given plain colours, so the bar just shows the default 0-1 viridis
sm = cm.ScalarMappable(norm=mcolors.Normalize(0, 1), cmap='viridis')
fig.colorbar(sm, ax=ax)

plt.savefig('out.png', dpi=100)
